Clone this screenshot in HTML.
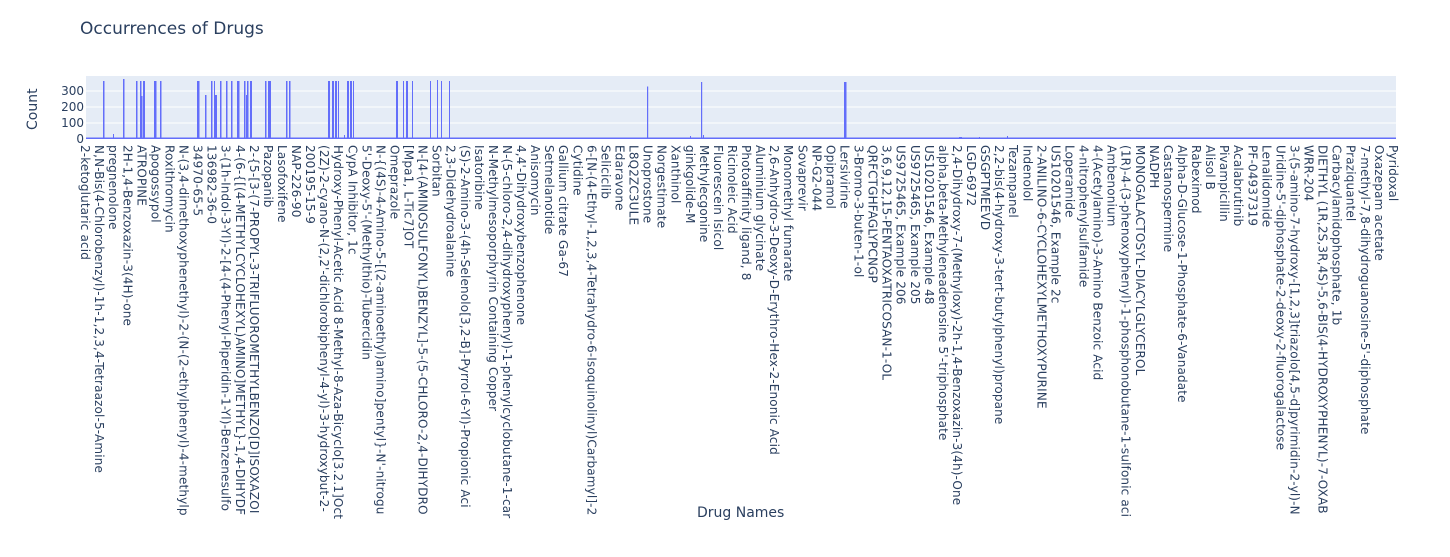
<!DOCTYPE html>
<html><head><meta charset="utf-8"><style>
body{margin:0;width:1450px;height:557px;background:#fff;position:relative;overflow:hidden;font-family:"DejaVu Sans","Liberation Sans",sans-serif;color:#2a3f5f}
.t{position:absolute;white-space:nowrap}
#lbl{position:absolute;left:78px;top:145px;height:374px;width:1340px;overflow:hidden;writing-mode:vertical-lr;white-space:nowrap;font-size:12px;letter-spacing:0.15px;line-height:14.06px;color:#2a3f5f}
</style></head><body>
<div class="t" style="left:80px;top:19px;font-size:17px">Occurrences of Drugs</div>
<div class="t" style="left:11px;top:100px;font-size:14px;transform:rotate(-90deg);transform-origin:22px 8px;">Count</div>
<div class="t" style="left:56px;top:84px;font-size:12px;width:28px;text-align:right">300</div>
<div class="t" style="left:56px;top:100px;font-size:12px;width:28px;text-align:right">200</div>
<div class="t" style="left:56px;top:116px;font-size:12px;width:28px;text-align:right">100</div>
<div class="t" style="left:56px;top:132px;font-size:12px;width:28px;text-align:right">0</div>
<div class="t" style="left:697px;top:505px;font-size:14px">Drug Names</div>
<svg style="position:absolute;left:0;top:0" width="1450" height="150">
<rect x="86" y="76" width="1310" height="63" fill="#e5ecf6"/>
<g stroke="#fff" stroke-width="1"><line x1="86" x2="1396" y1="123" y2="123"/><line x1="86" x2="1396" y1="107" y2="107"/><line x1="86" x2="1396" y1="91" y2="91"/></g>
<g fill="#636efa">
<rect x="103" y="81" width="1.5" height="58"/><rect x="113" y="134" width="1" height="5"/><rect x="123" y="79" width="1.5" height="60"/>
<rect x="136" y="81" width="1.5" height="58"/><rect x="140" y="81" width="1.5" height="58"/><rect x="141.5" y="96" width="1" height="43"/><rect x="143" y="81" width="2" height="58"/>
<rect x="154" y="81" width="2.5" height="58"/><rect x="160" y="81" width="1.5" height="58"/><rect x="197" y="81" width="2.5" height="58"/>
<rect x="205" y="95" width="1.5" height="44"/><rect x="211" y="81" width="1.5" height="58"/><rect x="214" y="81" width="1" height="58"/><rect x="215" y="95" width="2" height="44"/>
<rect x="220" y="81" width="1.5" height="58"/><rect x="226" y="81" width="1.5" height="58"/><rect x="231" y="81" width="1.5" height="58"/><rect x="237" y="81" width="2.5" height="58"/>
<rect x="244" y="81" width="1.5" height="58"/><rect x="246" y="95" width="1" height="44"/><rect x="247" y="81" width="1.5" height="58"/><rect x="250" y="81" width="2" height="58"/>
<rect x="265" y="81" width="1.5" height="58"/><rect x="268" y="81" width="3" height="58"/><rect x="286" y="81" width="1.5" height="58"/><rect x="289" y="81" width="1.5" height="58"/>
<rect x="328" y="81" width="2" height="58"/><rect x="332" y="81" width="2" height="58"/><rect x="335" y="81" width="2" height="58"/><rect x="338" y="81" width="1" height="58"/>
<rect x="344" y="135" width="1" height="4"/><rect x="347" y="81" width="2" height="58"/><rect x="350" y="81" width="2" height="58"/><rect x="353" y="81" width="1" height="58"/>
<rect x="396" y="81" width="2" height="58"/><rect x="403" y="81" width="1" height="58"/><rect x="406" y="81" width="2" height="58"/><rect x="412" y="81" width="1" height="58"/>
<rect x="430" y="81" width="1" height="58"/><rect x="437" y="80" width="1" height="59"/><rect x="441" y="81" width="1" height="58"/><rect x="449" y="81" width="1" height="58"/>
<rect x="647" y="86.5" width="1.2" height="52.5"/><rect x="690" y="136" width="1" height="3"/><rect x="701" y="82" width="1.2" height="57"/><rect x="703" y="135" width="1" height="4"/>
<rect x="844" y="82" width="2.5" height="57"/><rect x="959" y="137" width="3" height="2"/><rect x="979" y="137" width="1" height="2"/><rect x="1007" y="136" width="1" height="3"/>
<rect x="86" y="137.5" width="1310" height="1.5"/>
</g>
</svg>
<div id="lbl">2-ketoglutaric acid<br>N,N-Bis(4-Chlorobenzyl)-1h-1,2,3,4-Tetraazol-5-Amine<br>pregnenolone<br>2H-1,4-Benzoxazin-3(4H)-one<br>ATROPINE<br>Apogossypol<br>Roxithromycin<br>N-(3,4-dimethoxyphenethyl)-2-(N-(2-ethylphenyl)-4-methylp<br>34970-65-5<br>136982-36-0<br>3-(1h-Indol-3-Yl)-2-[4-(4-Phenyl-Piperidin-1-Yl)-Benzenesulfo<br>4-(6-{[(4-METHYLCYCLOHEXYL)AMINO]METHYL}-1,4-DIHYDF<br>2-{5-[3-(7-PROPYL-3-TRIFLUOROMETHYLBENZO[D]ISOXAZOI<br>Pazopanib<br>Lasofoxifene<br>NAP-226-90<br>200195-15-9<br>(2Z)-2-cyano-N-(2,2'-dichlorobiphenyl-4-yl)-3-hydroxybut-2-<br>Hydroxy-Phenyl-Acetic Acid 8-Methyl-8-Aza-Bicyclo[3.2.1]Oct<br>CypA Inhibitor, 1c<br>5'-Deoxy-5'-(Methylthio)-Tubercidin<br>N-{(4S)-4-Amino-5-[(2-aminoethyl)amino]pentyl}-N'-nitrogu<br>Omeprazole<br>[Mpa1, L-Tic7]OT<br>N-[4-(AMINOSULFONYL)BENZYL]-5-(5-CHLORO-2,4-DIHYDRO<br>Sorbitan<br>2,3-Didehydroalanine<br>(S)-2-Amino-3-(4h-Selenolo[3,2-B]-Pyrrol-6-Yl)-Propionic Aci<br>Isatoribine<br>N-Methylmesoporphyrin Containing Copper<br>N-(5-chloro-2,4-dihydroxyphenyl)-1-phenylcyclobutane-1-car<br>4,4'-Dihydroxybenzophenone<br>Anisomycin<br>Setmelanotide<br>Gallium citrate Ga-67<br>Cytidine<br>6-[N-(4-Ethyl-1,2,3,4-Tetrahydro-6-Isoquinolinyl)Carbamyl]-2<br>Seliciclib<br>Edaravone<br>L8Q2ZC3ULE<br>Unoprostone<br>Norgestimate<br>Xanthinol<br>ginkgolide-M<br>Methylecgonine<br>Fluorescein Isicol<br>Ricinoleic Acid<br>Photoaffinity ligand, 8<br>Aluminium glycinate<br>2,6-Anhydro-3-Deoxy-D-Erythro-Hex-2-Enonic Acid<br>Monomethyl fumarate<br>Sovaprevir<br>NP-G2-044<br>Opipramol<br>Lersivirine<br>3-Bromo-3-buten-1-ol<br>QRFCTGHFAGLYPCNGP<br>3,6,9,12,15-PENTAOXATRICOSAN-1-OL<br>US9725465, Example 206<br>US9725465, Example 205<br>US10201546, Example 48<br>alpha,beta-Methyleneadenosine 5'-triphosphate<br>2,4-Dihydroxy-7-(Methyloxy)-2h-1,4-Benzoxazin-3(4h)-One<br>LGD-6972<br>GSGPTMEEVD<br>2,2-bis(4-hydroxy-3-tert-butylphenyl)propane<br>Tezampanel<br>Indenolol<br>2-ANILINO-6-CYCLOHEXYLMETHOXYPURINE<br>US10201546, Example 2c<br>Loperamide<br>4-nitrophenylsulfamide<br>4-(Acetylamino)-3-Amino Benzoic Acid<br>Ambenonium<br>(1R)-4-(3-phenoxyphenyl)-1-phosphonobutane-1-sulfonic aci<br>MONOGALACTOSYL-DIACYLGLYCEROL<br>NADPH<br>Castanospermine<br>Alpha-D-Glucose-1-Phosphate-6-Vanadate<br>Rabeximod<br>Alisol B<br>Pivampicillin<br>Acalabrutinib<br>PF-04937319<br>Lenalidomide<br>Uridine-5'-diphosphate-2-deoxy-2-fluorogalactose<br>3-(5-amino-7-hydroxy-[1,2,3]triazolo[4,5-d]pyrimidin-2-yl)-N<br>WRR-204<br>DIETHYL (1R,2S,3R,4S)-5,6-BIS(4-HYDROXYPHENYL)-7-OXAB<br>Carbacylamidophosphate, 1b<br>Praziquantel<br>7-methyl-7,8-dihydroguanosine-5'-diphosphate<br>Oxazepam acetate<br>Pyridoxal</div>
</body></html>
